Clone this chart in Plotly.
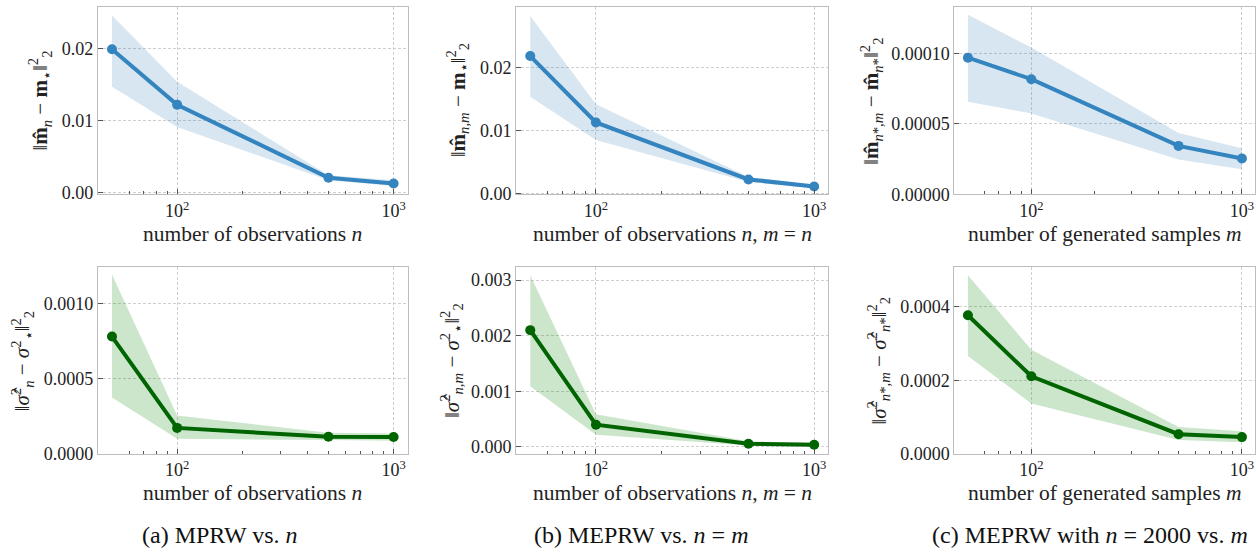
import plotly.graph_objects as go
from plotly.subplots import make_subplots

# ---------------- data ----------------
sizes = [50, 100, 500, 1000]

# (a) MPRW vs n
a_mean_mean = [0.0199, 0.0122, 0.00205, 0.00125]
a_mean_low = [0.0147, 0.0091, 0.0017, 0.0009]
a_mean_up = [0.0246, 0.0154, 0.0024, 0.0017]
a_var_mean = [0.00078, 0.000172, 0.000113, 0.000112]
a_var_low = [0.000374, 0.000100, 0.000091, 0.000087]
a_var_up = [0.001193, 0.000254, 0.000139, 0.000135]

# (b) MEPRW vs n = m
b_mean_mean = [0.0219, 0.0113, 0.0022, 0.00108]
b_mean_low = [0.0154, 0.0085, 0.0018, 0.0008]
b_mean_up = [0.0283, 0.0142, 0.0026, 0.0014]
b_var_mean = [0.0021, 0.0004, 0.000058, 0.00004]
b_var_low = [0.00109, 0.000217, 0.000025, 0.00002]
b_var_up = [0.003086, 0.000587, 0.0001, 0.000076]

# (c) MEPRW with n = 2000 vs m
c_mean_mean = [0.0000968, 0.0000816, 0.0000344, 0.0000254]
c_mean_low = [0.0000657, 0.0000574, 0.0000247, 0.0000178]
c_mean_up = [0.0001272, 0.000104, 0.0000436, 0.0000327]
c_var_mean = [0.000377, 0.000211, 0.0000533, 0.0000453]
c_var_low = [0.000266, 0.000137, 0.0000373, 0.000031]
c_var_up = [0.000486, 0.000283, 0.0000728, 0.0000613]

y_titles = [
    "‖<b>m̂</b><sub><i>n</i></sub> − <b>m</b><sub>⋆</sub>‖<sup>2</sup><sub>2</sub>",
    "‖<b>m̂</b><sub><i>n,m</i></sub> − <b>m</b><sub>⋆</sub>‖<sup>2</sup><sub>2</sub>",
    "‖<b>m̂</b><sub><i>n</i>*<i>,m</i></sub> − <b>m̂</b><sub><i>n</i>*</sub>‖<sup>2</sup><sub>2</sub>",
    "‖<i>σ̂</i><sup>2</sup><sub><i>n</i></sub> − <i>σ</i><sup>2</sup><sub>⋆</sub>‖<sup>2</sup><sub>2</sub>",
    "‖<i>σ̂</i><sup>2</sup><sub><i>n,m</i></sub> − <i>σ</i><sup>2</sup><sub>⋆</sub>‖<sup>2</sup><sub>2</sub>",
    "‖<i>σ̂</i><sup>2</sup><sub><i>n</i>*<i>,m</i></sub> − <i>σ̂</i><sup>2</sup><sub><i>n</i>*</sub>‖<sup>2</sup><sub>2</sub>",
]
x_titles = [
    "number of observations <i>n</i>",
    "number of observations <i>n</i>, <i>m</i> = <i>n</i>",
    "number of generated samples <i>m</i>",
]
captions = [
    "(a) MPRW vs. <i>n</i>",
    "(b) MEPRW vs. <i>n</i> = <i>m</i>",
    "(c) MEPRW with <i>n</i> = 2000 vs. <i>m</i>",
]
x_tick_vals = [100, 1000]
x_tick_text = ["10<sup>2</sup>", "10<sup>3</sup>"]

# ---------------- layout helpers ----------------
W, H = 1256, 560
FONT = "Liberation Serif, DejaVu Serif, serif"
BLUE = "#3384bf"
BLUE_FILL = "rgba(31,119,180,0.18)"
GREEN = "#006400"
GREEN_FILL = "rgba(0,128,0,0.20)"

col_px = [(98, 408), (516.5, 829), (955, 1256)]
row_px = [(7, 198), (272, 462)]
xranges = [[1.634, 3.065], [1.634, 3.065], [1.634, 3.062]]

panels = [
    (a_mean_mean, a_mean_low, a_mean_up, BLUE, BLUE_FILL, [-0.00027, 0.0258], 0.01, ".2f"),
    (b_mean_mean, b_mean_low, b_mean_up, BLUE, BLUE_FILL, [-0.0002, 0.02976], 0.01, ".2f"),
    (c_mean_mean, c_mean_low, c_mean_up, BLUE, BLUE_FILL, [0, 0.0001328], 0.00005, ".5f"),
    (a_var_mean, a_var_low, a_var_up, GREEN, GREEN_FILL, [0, 0.001242], 0.0005, ".4f"),
    (b_var_mean, b_var_low, b_var_up, GREEN, GREEN_FILL, [-0.000123, 0.003233], 0.001, ".3f"),
    (c_var_mean, c_var_low, c_var_up, GREEN, GREEN_FILL, [0, 0.000508], 0.0002, ".4f"),
]
ytitle_px = [40, 458, 872, 22, 452, 879]

fig = make_subplots(rows=2, cols=3)

minor_vals = [40, 60, 70, 80, 90, 200, 300, 400, 500, 600, 700, 800, 900]

for i, (mean, low, up, col, fillc, yr, dt, fmt) in enumerate(panels):
    r = i // 3 + 1
    c = i % 3 + 1
    fig.add_trace(go.Scatter(x=sizes, y=up, mode="lines", line=dict(width=0, color=col),
                             showlegend=False, hoverinfo="skip"), row=r, col=c)
    fig.add_trace(go.Scatter(x=sizes, y=low, mode="lines", line=dict(width=0, color=col),
                             fill="tonexty", fillcolor=fillc, showlegend=False,
                             hoverinfo="skip"), row=r, col=c)
    fig.add_trace(go.Scatter(x=sizes, y=mean, mode="lines+markers",
                             line=dict(width=4, color=col),
                             marker=dict(size=10, color=col), showlegend=False,
                             cliponaxis=False),
                  row=r, col=c)
    x0, x1 = col_px[c - 1]
    y0, y1 = row_px[r - 1]
    axis_common = dict(showline=True, linecolor="#bdbdbd", linewidth=1, mirror=True,
                       showgrid=True, gridcolor="#cfcfcf", gridwidth=0.8, griddash="3px,2px",
                       ticks="inside", ticklen=5, tickcolor="#555", zeroline=False,
                       tickfont=dict(family=FONT, size=18, color="#222"))
    fig.update_xaxes(type="log", range=xranges[c - 1], domain=[x0 / W, x1 / W],
                     tickvals=x_tick_vals, ticktext=x_tick_text,
                     minor=dict(tickvals=minor_vals, ticks="inside", ticklen=3,
                                tickcolor="#555", showgrid=False),
                     **axis_common, row=r, col=c)
    fig.update_yaxes(range=yr, dtick=dt, tick0=0, tickformat=fmt,
                     domain=[1 - y1 / H, 1 - y0 / H], **axis_common, row=r, col=c)
    # y title
    fig.add_annotation(text=y_titles[i], textangle=-90, xref="paper", yref="paper",
                       x=ytitle_px[i] / W, y=1 - (y0 + y1) / 2 / H,
                       xanchor="center", yanchor="middle", showarrow=False,
                       font=dict(family=FONT, size=21, color="#222"))
    # x title
    fig.add_annotation(text=x_titles[c - 1], xref="paper", yref="paper",
                       x=(x0 + x1) / 2 / W, y=1 - (y1 + 40) / H,
                       xanchor="center", yanchor="middle", showarrow=False,
                       font=dict(family=FONT, size=21.5, color="#222"))

cap_px = [220, 642, 1091]
for k in range(3):
    fig.add_annotation(text=captions[k], xref="paper", yref="paper",
                       x=cap_px[k] / W, y=1 - 545 / H, xanchor="center", yanchor="middle",
                       showarrow=False, font=dict(family=FONT, size=24, color="#111"))

fig.update_layout(width=W, height=H, margin=dict(l=0, r=0, t=0, b=0),
                  plot_bgcolor="white", paper_bgcolor="white",
                  font=dict(family=FONT))

fig.write_html("out.html", config={"displayModeBar": False},
               post_script="document.body.style.margin='0px';"
                           "document.body.style.overflow='hidden';")
